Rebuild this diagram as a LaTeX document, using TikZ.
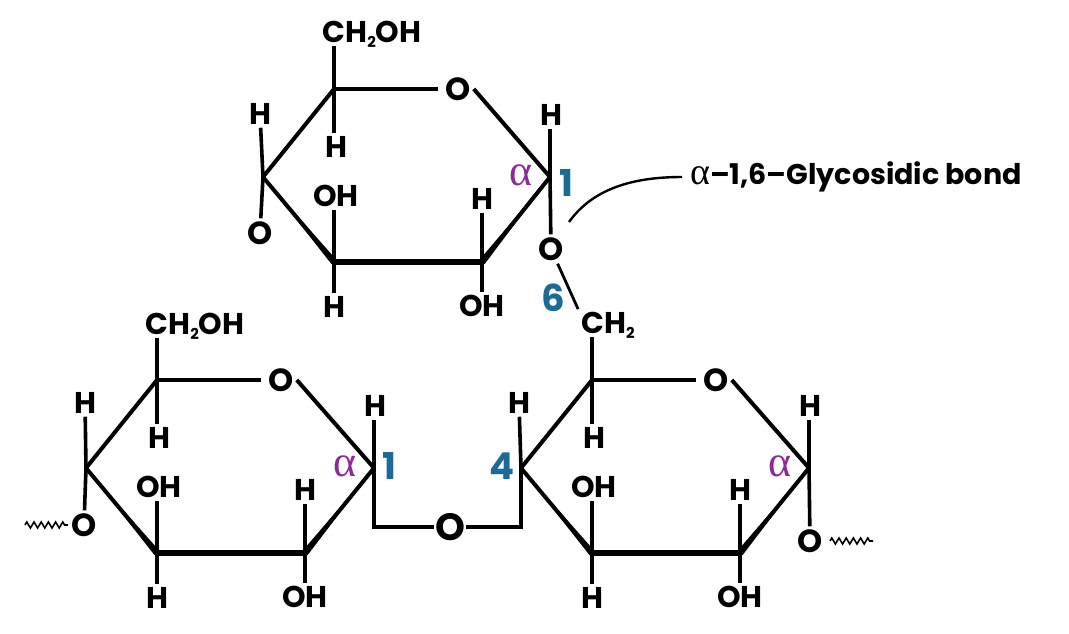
\documentclass[tikz,border=0pt]{standalone}
\usepackage{fontspec}
\setmainfont{Poppins}
\newfontfamily\greekfont{Liberation Serif}
\usetikzlibrary{calc,decorations.pathmorphing}
\definecolor{numblue}{HTML}{1B6A97}
\definecolor{alphapurple}{HTML}{8E2A97}
\newcommand{\subtwo}{\smash{\raisebox{-5pt}{\fontsize{15}{15}\selectfont 2}}}
\tikzset{
	atom/.style={inner sep=3pt, font=\fontsize{30}{30}\selectfont\bfseries},
	ringoxy/.style={inner sep=3pt, font=\fontsize{32}{32}\selectfont\bfseries},
	numlabel/.style={inner sep=0pt, text=numblue, font=\fontsize{37}{37}\selectfont\bfseries},
	alphalabel/.style={inner sep=0pt, text=alphapurple, font=\fontsize{44}{44}\selectfont\greekfont},
	bond/.style={line width=3.6pt},
	ringbond/.style={line width=4pt},
	squiggle/.style={line width=1.6pt, decorate, decoration={zigzag, segment length=7.2, amplitude=3}},
}
\begin{document}
\begin{tikzpicture}[x=1pt, y=-1pt]
	\useasboundingbox (0,0) rectangle (1069,633);
	% the three sugar rings, all alike
	\foreach \r/\x/\y/\w in {a/334/89/216, b/157/380/217, c/592/380/217} {
		\begin{scope}[shift={(\x,\y)}]
			\coordinate (\r5) at (0,0);
			\coordinate (\r1) at (\w,88);
			\coordinate (\r2) at (148,173);
			\coordinate (\r3) at (0,173);
			\coordinate (\r4) at (-71,88);
			\node[ringoxy] (\r0) at (124,0) {O};
			\node[atom] (\r5h) at (2,58) {H};
			\node[atom] (\r3oh) at (2,107) {OH};
			\node[atom] (\r3h) at (0,218) {H};
			\node[atom] (\r2h) at (148,110) {H};
			\node[atom] (\r2oh) at (148,217) {OH};
			\node[atom] (\r1h) at (\w+1,26) {H};
			\node[alphalabel] (\r al) at (\w-29,86) {α};
		\end{scope}
		\draw[ringbond, shorten >=4pt] (\r5) -- (\r0.west);
		\draw[ringbond] (\r0.east) -- (\r1);
		\draw[ringbond] (\r4) -- (\r5);
		\draw[bond] (\r5) -- (\r5 |- \r5h.north);
		\draw[bond] (\r3) -- (\r3 |- \r3oh.south);
		\draw[bond] (\r3) -- (\r3 |- \r3h.north);
		\draw[bond] (\r2) -- (\r2 |- \r2h.south);
		\draw[bond] (\r2) -- (\r2 |- \r2oh.north);
		\draw[bond] (\r1) -- (\r1 |- \r1h.south);
	}
	% front edges get thicker towards the viewer
	\foreach \r in {a,b,c} {
		\draw[line width=6pt] (\r3) -- (\r2);
		\draw[ringbond] (\r4) -- (\r3);
		\draw[ringbond] (\r1) -- (\r2);
		\fill ($(\r3)+(2.5,-2.1)$) -- ($(\r3)+(-2.5,2.1)$) -- (\r4) -- cycle;
		\fill ($(\r2)+(2.6,2.1)$) -- ($(\r2)+(-2.6,-2.1)$) -- (\r1) -- cycle;
	}

	% top ring
	\node[atom] (atop) at (372,32) {CH\subtwo OH};
	\node[atom] (a4h) at (260,114) {H};
	\node[ringoxy] (a4o) at (260,233) {O};
	\node[ringoxy] (alink) at (551,249) {O};
	\node[atom] (cch) at (608,323) {CH\subtwo};
	\node[numlabel] (n1a) at (566,183) {1};
	\node[numlabel] (n6) at (553,298) {6};
	\draw[bond] (a5) -- (a5 |- atop.south);
	\draw[bond] (a4) -- (a4h);
	\draw[bond] (a4) -- (a4o);
	\draw[bond] (a1) -- (alink);
	\draw[line width=2.8pt] (alink) -- (cch.north west);
	\draw[bond] (c5) -- (c5 |- cch.south);

	% lower left ring
	\node[atom] (btop) at (195,324) {CH\subtwo OH};
	\node[atom] (b4h) at (85,403) {H};
	\node[ringoxy] (b4o) at (84,525) {O};
	\node[numlabel] (n1b) at (389,466) {1};
	\coordinate (bend) at (25,525);
	\coordinate (bstart) at (68,525);
	\draw[bond] (b5) -- (b5 |- btop.south);
	\draw[bond] (b4) -- (b4h);
	\draw[bond] (b4) -- (b4o);
	\draw[squiggle] (bend) -- (bstart);

	% oxygen bridge and lower right ring
	\node[inner sep=1pt, font=\fontsize{38}{38}\selectfont\bfseries] (blink) at (450,527) {O};
	\node[numlabel] (n4) at (502,466) {4};
	\node[atom] (c4h) at (519,403) {H};
	\node[ringoxy] (c1o) at (810,541) {O};
	\coordinate (cstart) at (830,541);
	\coordinate (cend) at (873,541);
	\draw[bond] (b1) |- (blink);
	\draw[bond] (blink) -| (c4);
	\draw[bond] (c4) -- (c4h);
	\draw[bond] (c1) -- (c1o);
	\draw[squiggle] (cstart) -- (cend);

	% label of the bond
	\node[anchor=west, inner sep=0pt, font=\fontsize{28.5}{28.5}\selectfont\bfseries] (bondlabel) at (690,177) {{\greekfont\mdseries\fontsize{38}{38}\selectfont α}–1,6–Glycosidic bond};
	\coordinate (bondend) at (569,222);
	\coordinate (bondstart) at (682,177);
	\draw[line width=2.4pt] (bondend) .. controls (592,190) and (630,177) .. (bondstart);
\end{tikzpicture}
\end{document}
